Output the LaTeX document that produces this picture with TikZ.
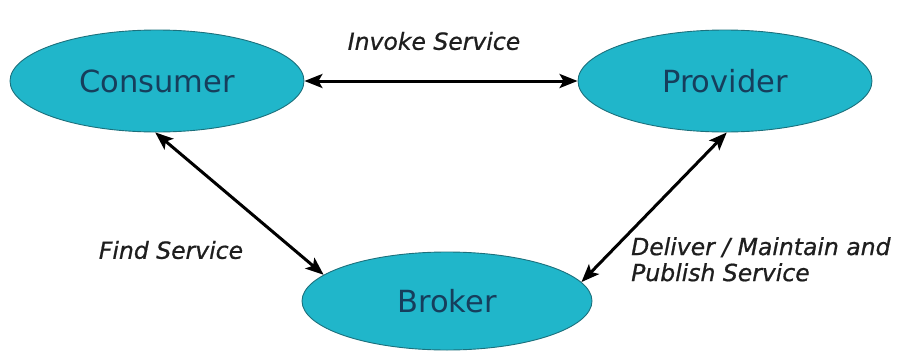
\documentclass[tikz,border=0pt]{standalone}
\usepackage{fontspec}
\setmainfont{DejaVu Sans}
\newfontfamily\labelfont[FakeBold=0.8]{DejaVu Sans}
\usetikzlibrary{shapes.geometric,arrows.meta}
\definecolor{roleFill}{RGB}{32,182,202}
\definecolor{roleEdge}{RGB}{28,112,124}
\definecolor{roleText}{RGB}{22,62,92}
\definecolor{labelText}{RGB}{30,30,30}
\tikzset{
  tip/.tip={Stealth[length=18pt,width=14pt,inset=4pt]},
  role/.style={ellipse, draw=roleEdge, line width=0.9pt, fill=roleFill,
    minimum width=294pt, minimum height=102pt, inner sep=0pt,
    text=roleText, font=\fontsize{30.5}{34}\selectfont},
  link/.style={line width=3pt, black, tip-tip},
  lbl/.style={text=labelText, font=\labelfont\fontsize{23.5}{26}\selectfont\itshape, inner sep=0pt}
}
\begin{document}
\begin{tikzpicture}[x=1pt,y=-1pt]
  \useasboundingbox (0,0) rectangle (914,351);
  \node[role] (consumer) at (157,81) {Consumer};
  \node[role] (provider) at (725,81) {Provider};
  \node[role, minimum width=290pt, minimum height=98pt] (broker) at (447,301) {Broker};

  \draw[link] (consumer.east) -- (provider.west);
  \draw[link] (consumer.-92) -- (broker.168);
  \draw[link] (provider.-88) -- (broker.8);

  \node[lbl] (invoke) at (434,41) {Invoke Service};
  \node[lbl] (find) at (171,250) {Find Service};
  \node[lbl, anchor=north west, align=left] (deliver) at (631,237) {Deliver / Maintain and\\Publish Service};
\end{tikzpicture}
\end{document}
